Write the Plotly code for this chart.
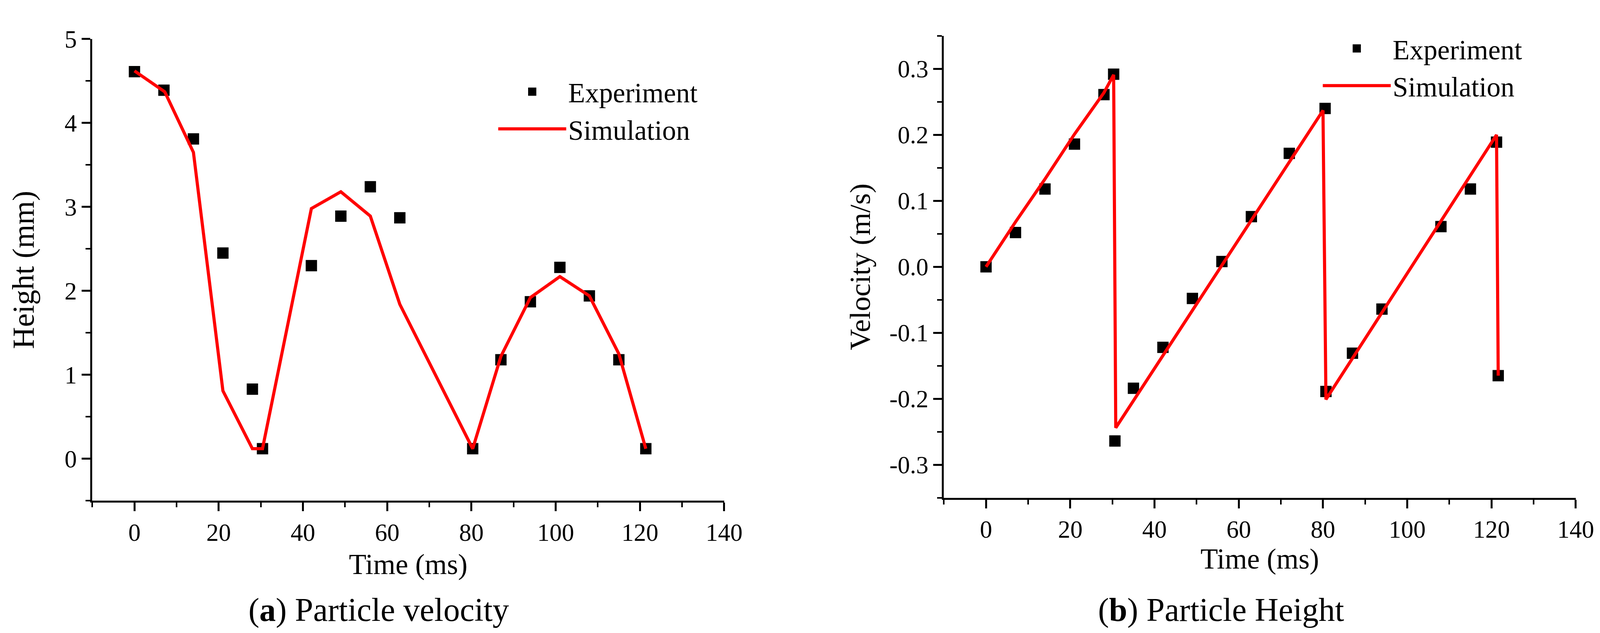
import plotly.graph_objects as go

# ---------------- data: panel (a) ----------------
exp_a_t = [0, 7, 14, 21, 28, 30.4, 42, 49, 56, 63, 80.3, 87, 94, 101, 108, 115, 121.4]
exp_a_h = [4.61, 4.39, 3.81, 2.45, 0.83, 0.12, 2.30, 2.89, 3.24, 2.87, 0.12, 1.18, 1.87, 2.28, 1.94, 1.18, 0.12]
sim_a_t = [0, 7.2, 14, 21, 28, 30.4, 42, 49, 56, 63, 80.3, 87, 94, 101, 108, 115, 121.4]
sim_a_h = [4.62, 4.37, 3.65, 0.81, 0.12, 0.12, 2.98, 3.18, 2.89, 1.84, 0.12, 1.22, 1.92, 2.17, 1.94, 1.25, 0.12]

# ---------------- data: panel (b) ----------------
exp_b_t = [0, 7, 14, 21, 28, 30.3, 30.6, 35, 42, 49, 56, 63, 72, 80.5, 80.7, 87, 94, 108, 115, 121.2, 121.6]
exp_b_v = [0.0, 0.052, 0.118, 0.186, 0.261, 0.292, -0.264, -0.184, -0.122, -0.048, 0.008, 0.076,
           0.172, 0.240, -0.189, -0.131, -0.064, 0.061, 0.118, 0.189, -0.165]
sim_b_t = [0, 7, 14, 21, 28, 30.3, 30.8, 80.0, 80.7, 121.2, 121.6]
sim_b_v = [0.0, 0.068, 0.133, 0.201, 0.264, 0.291, -0.244, 0.237, -0.201, 0.200, -0.165]

# ---------------- tick labels ----------------
x_tickvals = [0, 20, 40, 60, 80, 100, 120, 140]
x_ticktext = ["0", "20", "40", "60", "80", "100", "120", "140"]
ya_tickvals = [0, 1, 2, 3, 4, 5]
ya_ticktext = ["0", "1", "2", "3", "4", "5"]
yb_tickvals = [-0.3, -0.2, -0.1, 0.0, 0.1, 0.2, 0.3]
yb_ticktext = ["-0.3", "-0.2", "-0.1", "0.0", "0.1", "0.2", "0.3"]

series_names = ["Experiment", "Simulation"]
axis_titles = {"xa": "Time (ms)", "ya": "Height (mm)", "xb": "Time (ms)", "yb": "Velocity (m/s)"}
captions = ["(<b>a</b>) Particle velocity", "(<b>b</b>) Particle Height"]

W, H = 4146, 1621
FONT = "Liberation Serif"
RED = "#ff0000"

fig = go.Figure()

mk = dict(symbol="square", size=24, color="black", line=dict(color="black", width=5))

fig.add_trace(go.Scatter(x=exp_a_t, y=exp_a_h, mode="markers", name=series_names[0],
                         marker=mk, xaxis="x", yaxis="y", legend="legend"))
fig.add_trace(go.Scatter(x=sim_a_t, y=sim_a_h, mode="lines", name=series_names[1],
                         line=dict(color=RED, width=8), xaxis="x", yaxis="y", legend="legend"))
fig.add_trace(go.Scatter(x=exp_b_t, y=exp_b_v, mode="markers", name=series_names[0],
                         marker=mk, xaxis="x2", yaxis="y2", legend="legend2"))
fig.add_trace(go.Scatter(x=sim_b_t, y=sim_b_v, mode="lines", name=series_names[1],
                         line=dict(color=RED, width=8), xaxis="x2", yaxis="y2", legend="legend2"))

tickfont = dict(family=FONT, size=63, color="black")
titlefont = dict(family=FONT, size=73, color="black")
common = dict(showline=True, linecolor="black", linewidth=5, mirror=False,
              ticks="outside", ticklen=22, tickwidth=5, tickcolor="black",
              showgrid=False, zeroline=False, tickfont=tickfont)

def xax(domain, anchor, title, standoff):
    return dict(common, domain=domain, anchor=anchor, range=[-10, 140],
                tickmode="array", tickvals=x_tickvals, ticktext=x_ticktext,
                minor=dict(ticks="outside", ticklen=12, tickwidth=4, tickcolor="black", dtick=10, tick0=0),
                title=dict(text=title, font=titlefont, standoff=standoff))

def yax(domain, anchor, rng, tv, tt, mdt, title, standoff, tsize):
    return dict(common, domain=domain, anchor=anchor, range=rng,
                tickmode="array", tickvals=tv, ticktext=tt,
                minor=dict(ticks="outside", ticklen=12, tickwidth=4, tickcolor="black", dtick=mdt, tick0=0),
                title=dict(text=title, font=dict(family=FONT, size=tsize, color="black"), standoff=standoff))

fig.update_layout(
    width=W, height=H,
    margin=dict(l=0, r=0, t=0, b=0),
    paper_bgcolor="white", plot_bgcolor="white",
    font=dict(family=FONT, color="black"),
    xaxis=xax([231 / W, 1867 / W], "y", axis_titles["xa"], 22),
    yaxis=yax([1 - 1267 / H, 1 - 59 / H], "x", [-0.5, 5], ya_tickvals, ya_ticktext, 0.5,
              axis_titles["ya"], 54, 78),
    xaxis2=xax([2436 / W, 4072 / W], "y2", axis_titles["xb"], 12),
    yaxis2=yax([1 - 1259 / H, 1 - 51 / H], "x2", [-0.35, 0.35], yb_tickvals, yb_ticktext, 0.05,
               axis_titles["yb"], 26, 75),
    legend=dict(x=1277 / W, y=1 - 143 / H, xanchor="left", yanchor="top",
                bgcolor="rgba(0,0,0,0)", borderwidth=0, itemwidth=174,
                font=dict(family=FONT, size=71, color="black"), itemsizing="trace"),
    legend2=dict(x=3412 / W, y=1 - 30 / H, xanchor="left", yanchor="top",
                 bgcolor="rgba(0,0,0,0)", borderwidth=0, itemwidth=174,
                 font=dict(family=FONT, size=71, color="black"), itemsizing="trace"),
    showlegend=True,
)

fig.add_annotation(text=captions[0], xref="paper", yref="paper", x=973 / W, y=1 - 1553 / H,
                   xanchor="center", yanchor="middle", showarrow=False,
                   font=dict(family=FONT, size=84, color="black"))
fig.add_annotation(text=captions[1], xref="paper", yref="paper", x=3154 / W, y=1 - 1553 / H,
                   xanchor="center", yanchor="middle", showarrow=False,
                   font=dict(family=FONT, size=84, color="black"))

fig.write_html("out.html")
